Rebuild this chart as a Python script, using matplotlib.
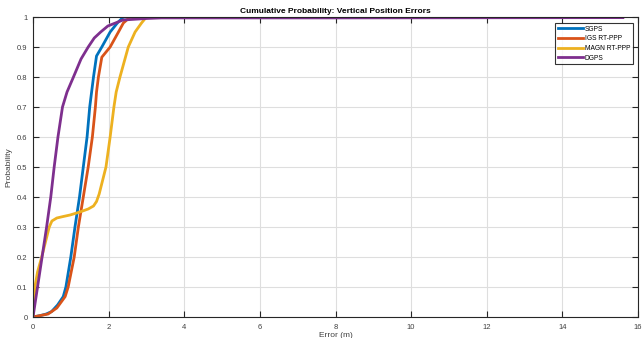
import matplotlib
matplotlib.use("Agg")
import matplotlib.pyplot as plt

# Empirical CDF of vertical position error (m) for each positioning method
sgps_err = [0.0, 0.2, 0.35, 0.49, 0.65, 0.8, 0.87, 1.0, 1.11, 1.23, 1.33, 1.43, 1.5, 1.55, 1.6, 1.68, 1.82, 2.04, 2.23, 2.39, 4.0, 6.0]
sgps_prob = [0.0, 0.005, 0.01, 0.018, 0.04, 0.068, 0.1, 0.2, 0.3, 0.4, 0.5, 0.6, 0.7, 0.75, 0.8, 0.87, 0.9, 0.95, 0.98, 1.0, 1.0, 1.0]

igs_err = [0.0, 0.2, 0.4, 0.63, 0.85, 0.93, 1.09, 1.2, 1.33, 1.46, 1.57, 1.65, 1.68, 1.73, 1.82, 2.04, 2.26, 2.39, 2.57, 5.0, 7.5]
igs_prob = [0.0, 0.005, 0.01, 0.03, 0.068, 0.1, 0.2, 0.3, 0.4, 0.5, 0.6, 0.7, 0.75, 0.8, 0.866, 0.9, 0.95, 0.98, 1.0, 1.0, 1.0]

magn_err = [0.0, 0.05, 0.12, 0.23, 0.33, 0.43, 0.5, 0.63, 0.8, 0.98, 1.24, 1.46, 1.6, 1.68, 1.75, 1.81, 1.87, 1.93, 2.04, 2.14, 2.2, 2.3, 2.41, 2.52, 2.7, 2.87, 3.0, 5.0, 7.5]
magn_prob = [0.0, 0.1, 0.15, 0.2, 0.25, 0.3, 0.32, 0.33, 0.335, 0.34, 0.35, 0.36, 0.37, 0.385, 0.41, 0.44, 0.47, 0.5, 0.6, 0.7, 0.75, 0.8, 0.85, 0.9, 0.95, 0.98, 1.0, 1.0, 1.0]

dgps_err = [0.0, 0.12, 0.24, 0.36, 0.47, 0.56, 0.66, 0.78, 0.9, 1.07, 1.27, 1.46, 1.62, 1.79, 1.98, 2.38, 3.0, 3.4, 8.0, 15.6]
dgps_prob = [0.0, 0.1, 0.2, 0.3, 0.4, 0.5, 0.6, 0.7, 0.75, 0.8, 0.86, 0.9, 0.93, 0.95, 0.97, 0.99, 0.995, 0.997, 0.997, 0.998]

series = [
    ("SGPS", sgps_err, sgps_prob, (0.0, 0.447, 0.741)),
    ("IGS RT-PPP", igs_err, igs_prob, (0.85, 0.325, 0.098)),
    ("MAGN RT-PPP", magn_err, magn_prob, (0.929, 0.694, 0.125)),
    ("DGPS", dgps_err, dgps_prob, (0.494, 0.184, 0.556)),
]

x_ticks = [0, 2, 4, 6, 8, 10, 12, 14, 16]
y_ticks = [0, 0.1, 0.2, 0.3, 0.4, 0.5, 0.6, 0.7, 0.8, 0.9, 1.0]
y_tick_labels = ["0", "0.1", "0.2", "0.3", "0.4", "0.5", "0.6", "0.7", "0.8", "0.9", "1"]

plt.rcParams["font.family"] = ["Liberation Sans", "DejaVu Sans"]

fig = plt.figure(figsize=(6.42, 3.38), dpi=100)
ax = fig.add_axes([33 / 642, 1 - 317 / 338, (638 - 33) / 642, (317 - 17) / 338])

for name, xs, ys, col in series:
    ax.plot(xs, ys, color=col, lw=2.0, label=name)

ax.set_xlim(0, 16)
ax.set_ylim(0, 1)
ax.set_xticks(x_ticks)
ax.set_yticks(y_ticks)
ax.set_yticklabels(y_tick_labels)
ax.grid(True, color=(0.87, 0.87, 0.87), lw=0.8)
ax.set_axisbelow(True)

edge = (0.15, 0.15, 0.15)
for sp in ax.spines.values():
    sp.set_color(edge)
    sp.set_linewidth(0.8)
ax.tick_params(direction="in", length=4, width=0.8, colors=edge,
               labelsize=5.5, labelcolor=(0.25, 0.25, 0.25),
               top=True, right=True)
ax.tick_params(axis="x", pad=5)
ax.tick_params(axis="y", pad=4)

ax.set_title("Cumulative Probability: Vertical Position Errors",
             fontsize=6, fontweight="bold", pad=3)
ax.set_xlabel("Error (m)", fontsize=6, color=(0.25, 0.25, 0.25), labelpad=0.5)
ax.set_ylabel("Probability", fontsize=6, color=(0.25, 0.25, 0.25), labelpad=3)

leg = ax.legend(loc="upper right", fontsize=4.8, frameon=True, fancybox=False,
                edgecolor="black", borderpad=0.4, handlelength=3.8,
                handletextpad=0.25, labelspacing=0.4, borderaxespad=0,
                bbox_to_anchor=((633 - 33) / 605, (317 - 23) / 300))
leg.get_frame().set_linewidth(0.8)

fig.savefig("out.png", dpi=100)
